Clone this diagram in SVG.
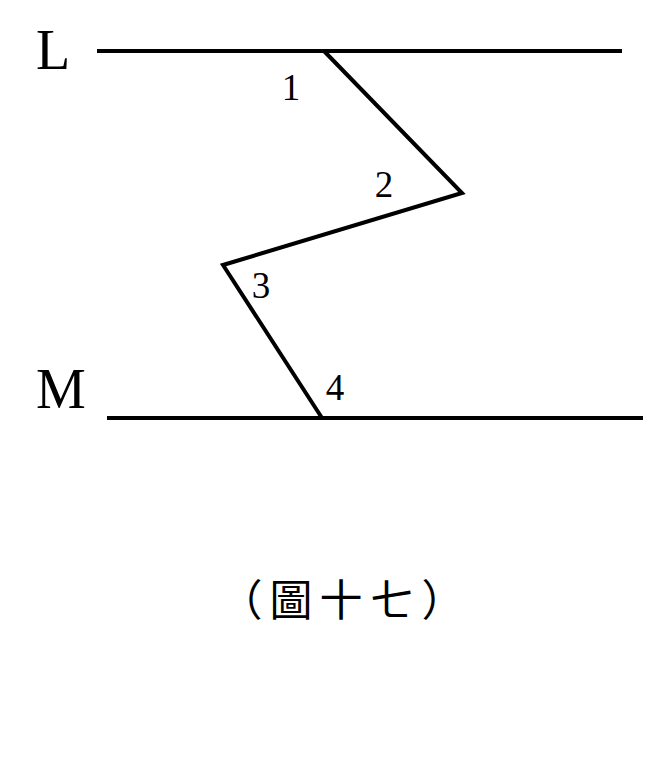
<svg xmlns="http://www.w3.org/2000/svg" width="654" height="758" viewBox="0 0 654 758">
<style>
.ln{stroke:#000;stroke-width:4;fill:none;stroke-linejoin:miter}
.big{font-family:"Liberation Serif","Times New Roman",serif;font-size:56px;fill:#000}
.num{font-family:"Liberation Serif","Times New Roman",serif;font-size:37px;fill:#000;text-anchor:middle}
.cap{font-family:"Noto Sans CJK TC","Noto Sans CJK SC",sans-serif;font-size:43px;fill:#000;text-anchor:middle}
</style>
<rect width="654" height="758" fill="#fff"/>
<g id="connectors">
<line id="lineL" class="ln" x1="97" y1="51" x2="622" y2="51"/>
<line id="lineM" class="ln" x1="107" y1="418" x2="643" y2="418"/>
<polyline id="zigzag" class="ln" points="324,51 462,193 223,265 322,418"/>
</g>
<g id="labelL"><text class="big" x="36" y="69">L</text></g>
<g id="labelM"><text class="big" x="36" y="408">M</text></g>
<g id="angle1"><text class="num" x="291" y="100">1</text></g>
<g id="angle2"><text class="num" x="384" y="197">2</text></g>
<g id="angle3"><text class="num" x="261" y="298">3</text></g>
<g id="angle4"><text class="num" x="335" y="400">4</text></g>
<g id="caption"><text class="cap" x="241 291 341 392 443" y="616">（圖十七）</text></g>
</svg>
